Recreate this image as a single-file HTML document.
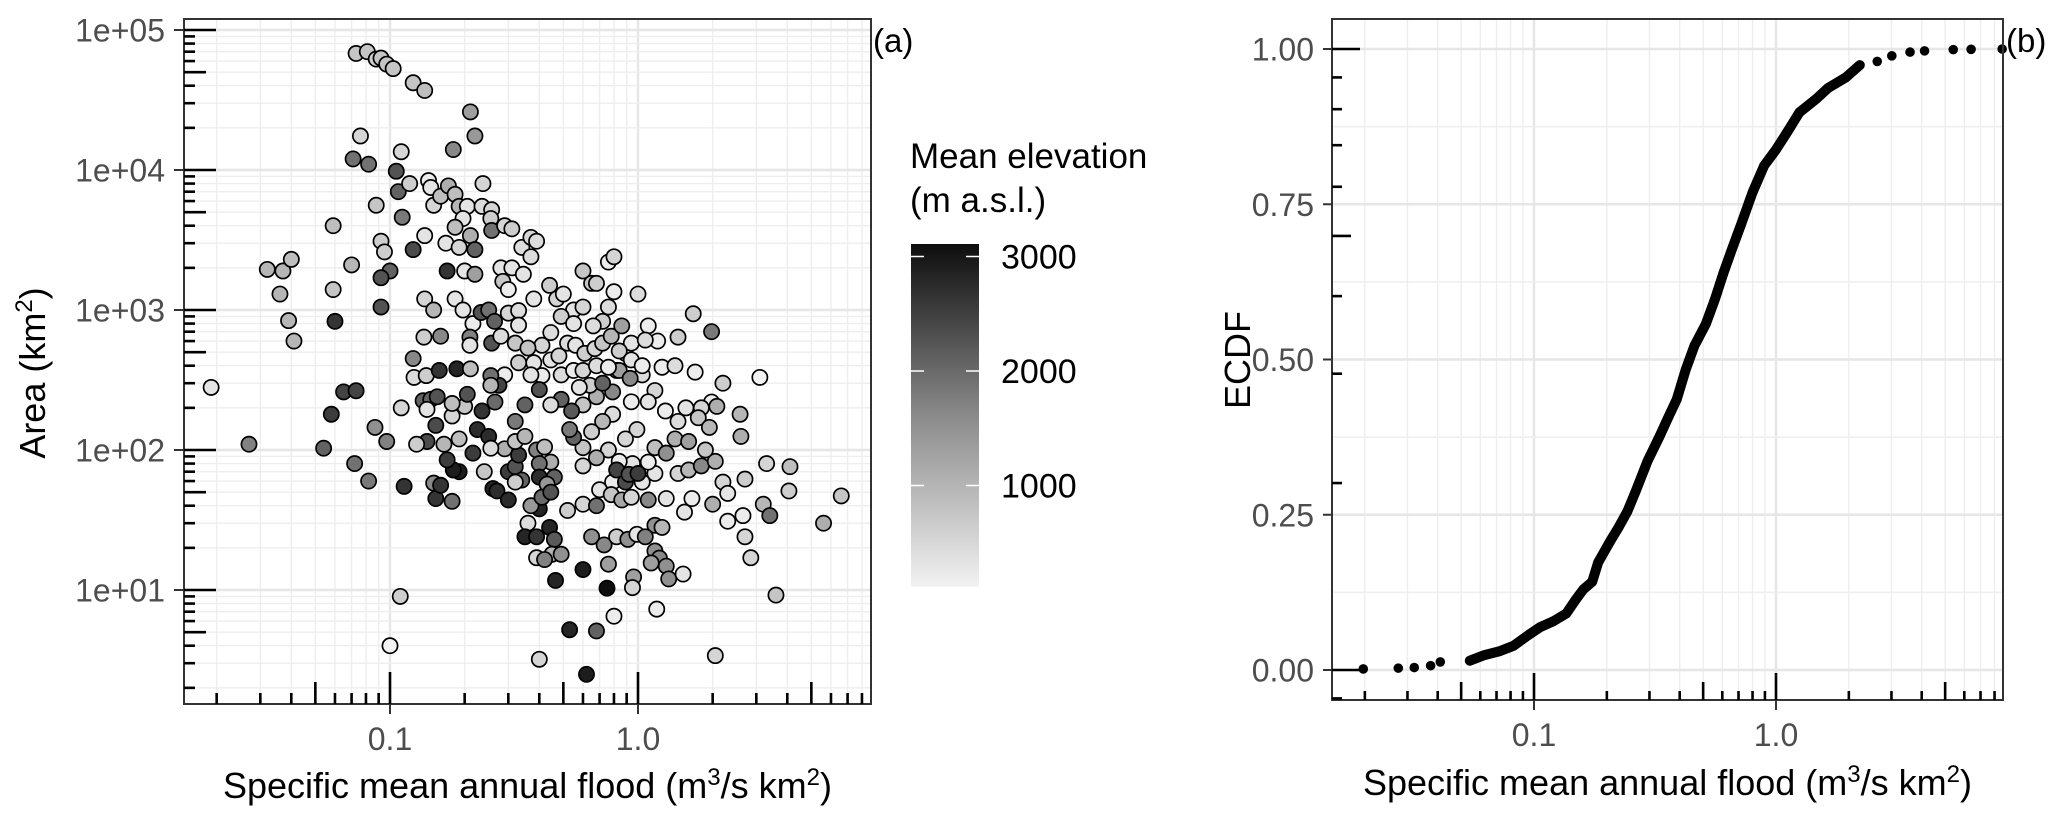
<!DOCTYPE html>
<html><head><meta charset="utf-8"><style>
html,body{margin:0;padding:0;background:#fff;}
svg{display:block;font-family:"Liberation Sans",Arial,sans-serif;}
</style></head><body>
<svg id="fig" width="2067" height="840" viewBox="0 0 2067 840" xmlns="http://www.w3.org/2000/svg">
<rect width="2067" height="840" fill="#fff"/>
<g id="pa"></g>
<g id="pb"></g>
<g id="legend">
  <defs><linearGradient id="gbar" x1="0" y1="1" x2="0" y2="0">
    <stop offset="0" stop-color="#f2f2f2"/><stop offset="0.5" stop-color="#8a8a8a"/><stop offset="1" stop-color="#0d0d0d"/></linearGradient></defs>
  <text x="910" y="168" font-size="35" fill="#000">Mean elevation</text>
  <text x="910" y="212" font-size="35" fill="#000">(m a.s.l.)</text>
  <rect x="911" y="244" width="68" height="343" fill="url(#gbar)"/>
  <g id="cbticks"></g>
</g>
<text x="873" y="52" font-size="33" fill="#000">(a)</text>
<text x="2006" y="52" font-size="33" fill="#000">(b)</text>
</svg>
<script>
// ---------- data: panel (a) ----------
const scatterX = [0.073,0.081,0.088,0.092,0.097,0.103,0.124,0.138,0.211,0.22,0.18,0.076,0.071,0.082,0.111,0.106,0.108,0.12,0.112,0.088,0.124,0.138,
0.143,0.146,0.15,0.16,0.172,0.183,0.19,0.205,0.235,0.257,0.237,0.255,0.197,0.183,0.211,0.257,0.29,0.31,0.34,0.37,0.37,0.39,0.168,0.19,0.22,0.17,0.2,0.22,0.28,0.31,0.345,0.285,0.3,
0.059,0.07,0.092,0.095,0.1,0.092,0.092,0.059,0.06,0.032,0.037,0.04,0.036,0.039,0.041,
0.019,0.027,0.054,0.058,0.065,0.073,0.072,0.082,0.087,0.097,0.111,0.114,0.11,0.1,
0.138,0.15,0.137,0.16,0.183,0.197,0.216,0.233,0.25,0.264,0.21,0.21,0.257,0.28,0.3,0.33,0.33,0.32,0.38,0.44,0.47,0.5,0.55,0.6,0.6,0.65,0.68,0.76,0.76,0.8,0.8,1.0,1.1,1.2,1.45,1.67,1.98,1.25,1.41,1.7,2.2,3.1,1.98,1.8,2.58,2.6,3.3,4.1,4.06,3.2,3.4,2.7,6.6,5.6,3.6,2.05,2.3,2.7,2.85,2.65,
0.38,0.41,0.445,0.48,0.52,0.56,0.61,0.67,0.72,0.78,0.82,0.89,0.94,1.04,1.17,1.1,0.94,0.84,0.79,0.68,0.6,0.54,0.49,0.445,0.4,0.35,0.32,0.29,0.275,0.255,0.255,0.265,0.235,0.225,0.25,0.216,0.19,0.18,0.17,0.165,0.178,0.2,0.19,0.153,0.141,0.128,0.124,0.125,0.14,0.136,0.146,0.155,0.141,0.158,0.186,0.211,0.205,0.178,0.153,0.178,0.15,0.16,
0.26,0.27,0.3,0.3,0.32,0.33,0.29,0.32,0.35,0.39,0.42,0.445,0.4,0.46,0.4,0.43,0.34,0.32,0.24,0.255,0.4,0.37,0.41,0.445,0.52,0.6,0.68,0.7,0.79,0.78,0.89,0.86,0.94,1.04,1.1,1.17,1.3,1.45,1.6,1.8,2.05,2.2,2.0,2.3,1.65,1.54,
0.36,0.35,0.39,0.44,0.46,0.45,0.39,0.42,0.49,0.465,0.53,0.68,0.75,0.8,0.62,0.4,0.6,0.65,0.73,0.76,0.82,0.91,0.96,0.95,1.17,1.17,1.22,1.13,1.3,1.33,1.25,1.52,1.19,0.99,1.07,
1.29,1.45,1.56,1.75,1.94,2.08,1.41,1.17,1.3,1.6,1.87,0.99,0.89,0.79,0.72,0.65,0.6,0.55,0.53,0.76,0.68,0.6,0.95,1.1,0.84,0.82,0.92,1.0,
0.49,0.55,0.72,0.66,0.86,0.84,0.94,1.04,0.93,1.07,0.445,0.41,0.36,0.37,0.33,0.49,0.55,0.6,0.68,0.76,0.64,0.72,0.58];
const scatterArea = [68000,70000,62000,63000,57000,53000,42000,37000,26000,17500,14000,17500,12000,11000,13500,9800,7000,8000,4600,5600,2700,3400,
8400,7500,5600,6500,7700,6700,5500,5500,5500,5200,8000,4500,4500,3900,3400,3700,4000,3800,2800,2400,3300,3100,3000,2800,2700,1900,1900,1800,2000,2000,1800,1600,1400,
4000,2100,3100,2600,1900,1700,1050,1400,830,1950,1900,2300,1300,840,600,
280,110,103,180,260,265,80,60,145,115,200,55,9,4,
1200,1000,640,650,1200,1000,800,960,1000,830,640,560,580,650,950,990,780,580,1200,1500,1200,1300,1000,1050,1900,1550,1550,1050,2200,2400,1350,1300,770,600,640,940,700,390,400,360,300,330,220,200,180,125,80,76,51,41,34,62,47,30,9.2,3.4,31,24,17,34,
420,340,440,470,580,560,490,530,580,650,370,490,580,344,266,221,221,370,260,240,210,190,230,210,270,210,160,344,290,340,290,220,190,140,125,95,70,72,85,110,175,205,120,150,115,110,450,330,340,225,230,240,195,370,380,380,250,215,45,43,58,56,
53,51,44,70,76,92,102,115,125,100,105,82,80,64,64,57,61,59,70,103,38,40,46,50,37,41,40,52,59,48,59,44,46,59,44,68,45,68,72,77,83,59,41,49,45,36,
30,24,24,28,23,18,17,16.5,18,11.7,5.2,5.1,10.3,6.5,2.5,3.2,14,24,21,15.3,24,23,12.4,10.4,29,19,16.9,15.6,14.8,12,28,13,7.3,25,24,
190,160,200,170,145,205,120,104,95,115,100,140,120,180,160,135,104,123,140,100,88,77,80,82,83,72,67,68,
900,800,830,770,770,510,440,400,325,610,690,560,535,344,420,344,370,370,400,390,290,300,280];
const scatterElev = [700,700,600,700,700,700,700,800,1200,1300,1500,500,1800,1800,500,2200,2000,600,1700,700,2300,300,
200,300,500,800,1000,800,900,300,400,500,500,600,300,800,1000,1800,500,600,400,400,500,400,300,500,2000,2600,300,1200,300,300,300,700,200,
800,900,600,600,2000,2200,2200,700,2600,900,900,800,900,900,900,
300,1600,2000,2500,2400,2400,1800,1700,1400,1600,500,2600,600,50,
500,900,600,1500,300,300,200,2200,1800,2000,1600,300,2200,400,500,400,300,700,300,600,500,300,300,500,700,700,600,400,200,500,200,400,200,200,600,600,1700,200,400,200,600,100,200,500,900,1000,500,800,600,900,1800,600,700,1000,700,500,200,500,500,200,
300,200,300,500,400,300,600,500,700,900,600,500,300,400,500,300,200,1200,1500,1000,700,2100,2000,400,2200,2000,1700,200,2400,1800,900,1900,2600,2700,2700,2500,2900,2900,2500,900,500,700,800,2300,2300,600,1500,400,600,2000,2000,2200,300,2600,2800,800,2200,800,2600,1800,1500,2600,
2800,2700,2700,2500,2200,2500,1000,700,900,1600,800,1000,1800,2000,2700,1300,2000,600,700,400,2800,1300,1900,2200,600,500,1800,300,200,700,2300,1100,500,300,1500,300,300,500,900,1500,1000,500,1000,300,200,300,
400,2800,2600,2800,2100,900,500,1600,1400,2800,2800,2000,3100,200,2900,500,2900,1400,1500,1200,600,1400,1200,500,1400,1400,1500,1200,1400,1400,900,300,200,300,1600,
200,400,300,700,900,1000,1000,800,1400,1200,700,500,500,400,900,600,700,2000,1700,500,1000,500,300,200,200,2400,2200,2500,
600,300,600,400,1200,600,300,200,1500,400,400,500,700,300,600,400,200,500,400,200,600,2000,300];
const xTickLabels = ["0.1","1.0"];
const xTickValues = [0.1,1];
const yTickLabelsA = ["1e+01","1e+02","1e+03","1e+04","1e+05"];
const yTickValuesA = [10,100,1000,10000,100000];
const cbTickValues = [1000,2000,3000];
const cbTickLabels = ["1000","2000","3000"];
// ---------- data: panel (b) ECDF ----------
const ecdfX = [0.0197,0.0275,0.032,0.0374,0.041,0.0543,0.0624,0.0717,0.0823,0.0946,0.106,0.121,0.136,0.148,0.160,0.174,0.184,0.206,0.223,0.243,0.264,0.295,0.330,0.358,0.389,0.424,0.460,0.513,0.558,0.606,0.658,0.717,0.800,0.893,1.0,1.12,1.25,1.47,1.64,1.94,2.22,2.62,3.01,3.58,4.11,5.4,6.4,8.6];
const ecdfF = [0.0017,0.003,0.004,0.007,0.013,0.015,0.024,0.03,0.039,0.056,0.069,0.079,0.091,0.112,0.13,0.142,0.173,0.207,0.229,0.255,0.289,0.337,0.376,0.406,0.436,0.484,0.522,0.557,0.596,0.639,0.678,0.717,0.769,0.812,0.838,0.868,0.898,0.92,0.937,0.954,0.974,0.98,0.989,0.995,0.997,0.999,0.9995,1.0];
const yTickLabelsB = ["0.00","0.25","0.50","0.75","1.00"];
const yTickValuesB = [0,0.25,0.5,0.75,1];

const NS="http://www.w3.org/2000/svg";
function mk(tag, attrs, parent){const e=document.createElementNS(NS,tag);for(const k in attrs)e.setAttribute(k,attrs[k]);parent.appendChild(e);return e;}

const A={l:184,r:871,t:19,b:704};
const B={l:1332,r:2003,t:19,b:700};
const xA=v=>390+248*Math.log10(v/0.1);
const yA=v=>590-140*Math.log10(v/10);
const xB=v=>1534+242*Math.log10(v/0.1);
const yB=v=>670-621*v;

function logPositions(lo,hi){const out=[];for(let e=-3;e<=6;e++){for(let k=1;k<=9;k++){const v=k*Math.pow(10,e);if(v>=lo&&v<=hi)out.push([v,k]);}}return out;}

function drawPanel(g,P,fx,fy,xticksAll,yGridMinor,yGridMajor,name){
  mk('rect',{x:P.l,y:P.t,width:P.r-P.l,height:P.b-P.t,fill:'#fff'},g);
  const grid=mk('g',{},g);
  
  
  xticksAll.forEach(([v,k])=>{const x=fx(v);mk('line',{x1:x,x2:x,y1:P.t,y2:P.b,stroke:k===1?'#e6e6e6':'#eeeeee','stroke-width':k===1?2.4:1.4},grid);});
  yGridMinor.forEach(v=>{const y=fy(v);mk('line',{x1:P.l,x2:P.r,y1:y,y2:y,stroke:'#eeeeee','stroke-width':1.4},grid);});
  yGridMajor.forEach(v=>{const y=fy(v);mk('line',{x1:P.l,x2:P.r,y1:y,y2:y,stroke:'#e6e6e6','stroke-width':2.4},grid);});
  return grid;
}
const sup='<tspan font-size="24" dy="-13">';
// ---- Panel A ----
const pa=document.getElementById('pa');
const xLogA=logPositions(0.0149,8.6);
const yLogA=logPositions(1.5,116000);
drawPanel(pa,A,xA,yA,xLogA,yLogA.filter(p=>p[1]!==1).map(p=>p[0]),yTickValuesA,'panel-a');
const ptsA=mk('g',{},pa);


function grayFor(e){const t=Math.max(0,Math.min(1,(e-118)/2992));const g=Math.round(242-t*229);return 'rgb('+g+','+g+','+g+')';}
for(let i=0;i<scatterX.length;i++){
  const c=mk('circle',{cx:xA(scatterX[i]),cy:yA(scatterArea[i]),r:7.6,fill:grayFor(scatterElev[i]),stroke:'#000','stroke-width':1.7},ptsA);
  
  
}
const frA=mk('rect',{x:A.l,y:A.t,width:A.r-A.l,height:A.b-A.t,fill:'none',stroke:'#333','stroke-width':2},pa);


const ltA=mk('g',{stroke:'#000','stroke-width':2.6},pa);


xLogA.forEach(([v,k])=>{const L=k===1?32:(k===5?22:11);const x=xA(v);mk('line',{x1:x,x2:x,y1:A.b,y2:A.b-L},ltA);});
yLogA.forEach(([v,k])=>{const L=k===1?32:(k===5?22:11);const y=yA(v);mk('line',{x1:A.l,x2:A.l+L,y1:y,y2:y},ltA);});
const axA=mk('g',{},pa);


xTickValues.forEach((v,i)=>{const x=xA(v);mk('line',{x1:x,x2:x,y1:A.b,y2:A.b+10,stroke:'#333','stroke-width':2},axA);
  const t=mk('text',{x:x,y:750,'font-size':32,fill:'#4d4d4d','text-anchor':'middle'},axA);t.textContent=xTickLabels[i];
  
  });
yTickValuesA.forEach((v,i)=>{const y=yA(v);mk('line',{x1:A.l-10,x2:A.l,y1:y,y2:y,stroke:'#333','stroke-width':2},axA);
  const t=mk('text',{x:165,y:y+11.5,'font-size':32,fill:'#4d4d4d','text-anchor':'end'},axA);t.textContent=yTickLabelsA[i];
  
  });
const xtA=mk('text',{x:(A.l+A.r)/2,y:798,'font-size':36,fill:'#000','text-anchor':'middle'},pa);


xtA.innerHTML='Specific mean annual flood (m'+sup+'3</tspan><tspan dy="13">/s km</tspan>'+sup+'2</tspan><tspan dy="13">)</tspan>';
const ytA=mk('text',{x:0,y:0,'font-size':36,fill:'#000','text-anchor':'middle',transform:'translate(45,373) rotate(-90)'},pa);


ytA.innerHTML='Area (km'+sup+'2</tspan><tspan dy="13">)</tspan>';

// ---- Panel B ----
const pb=document.getElementById('pb');
const xLogB=logPositions(0.0147,8.6);
const yMinorB=[0.125,0.375,0.625,0.875];
drawPanel(pb,B,xB,yB,xLogB,yMinorB,yTickValuesB,'panel-b');
const ptsB=mk('g',{},pb);


let d='';
for(let i=0;i<ecdfX.length;i++){ if(ecdfX[i]>=0.054 && ecdfX[i]<=2.3){ d+=(d?'L':'M')+xB(ecdfX[i]).toFixed(1)+','+yB(ecdfF[i]).toFixed(1);} }
const ln=mk('path',{d:d,fill:'none',stroke:'#000','stroke-width':10,'stroke-linecap':'round','stroke-linejoin':'round'},ptsB);


for(let i=0;i<ecdfX.length;i++){
  const c=mk('circle',{cx:xB(ecdfX[i]),cy:yB(ecdfF[i]),r:4.8,fill:'#000'},ptsB);
  
  
}
const frB=mk('rect',{x:B.l,y:B.t,width:B.r-B.l,height:B.b-B.t,fill:'none',stroke:'#333','stroke-width':2},pb);


const ltB=mk('g',{stroke:'#000','stroke-width':2.6},pb);


xLogB.forEach(([v,k])=>{const L=k===1?27:(k===5?18:9);const x=xB(v);mk('line',{x1:x,x2:x,y1:B.b,y2:B.b-L},ltB);});
[0.9,1,2,3,4,5,6,7,8,9,10].forEach(v=>{const k=(v===1||v===10)?1:v;const L=k===1?28:(k===5?19:10);const y=yB(Math.log10(v));mk('line',{x1:B.l,x2:B.l+L,y1:y,y2:y},ltB);});
const axB=mk('g',{},pb);


xTickValues.forEach((v,i)=>{const x=xB(v);mk('line',{x1:x,x2:x,y1:B.b,y2:B.b+10,stroke:'#333','stroke-width':2},axB);
  const t=mk('text',{x:x,y:746,'font-size':32,fill:'#4d4d4d','text-anchor':'middle'},axB);t.textContent=xTickLabels[i];
  
  });
yTickValuesB.forEach((v,i)=>{const y=yB(v);mk('line',{x1:B.l-9,x2:B.l,y1:y,y2:y,stroke:'#333','stroke-width':2},axB);
  const t=mk('text',{x:1314,y:y+11.5,'font-size':32,fill:'#4d4d4d','text-anchor':'end'},axB);t.textContent=yTickLabelsB[i];
  
  });
const xtB=mk('text',{x:(B.l+B.r)/2,y:795,'font-size':36,fill:'#000','text-anchor':'middle'},pb);


xtB.innerHTML='Specific mean annual flood (m'+sup+'3</tspan><tspan dy="13">/s km</tspan>'+sup+'2</tspan><tspan dy="13">)</tspan>';
const ytB=mk('text',{x:0,y:0,'font-size':36,fill:'#000','text-anchor':'middle',transform:'translate(1250,360) rotate(-90)'},pb);


ytB.textContent='ECDF';

// ---- colorbar ticks ----
const cbt=document.getElementById('cbticks');
const yCB=v=>600-0.1145*v;
cbTickValues.forEach((v,i)=>{const y=yCB(v);
  mk('line',{x1:911,x2:924,y1:y,y2:y,stroke:'#fff','stroke-width':1.5},cbt);
  mk('line',{x1:966,x2:979,y1:y,y2:y,stroke:'#fff','stroke-width':1.5},cbt);
  const t=mk('text',{x:1001,y:y+12,'font-size':34,fill:'#000'},cbt);t.textContent=cbTickLabels[i];
  
  });
</script>
</body></html>
